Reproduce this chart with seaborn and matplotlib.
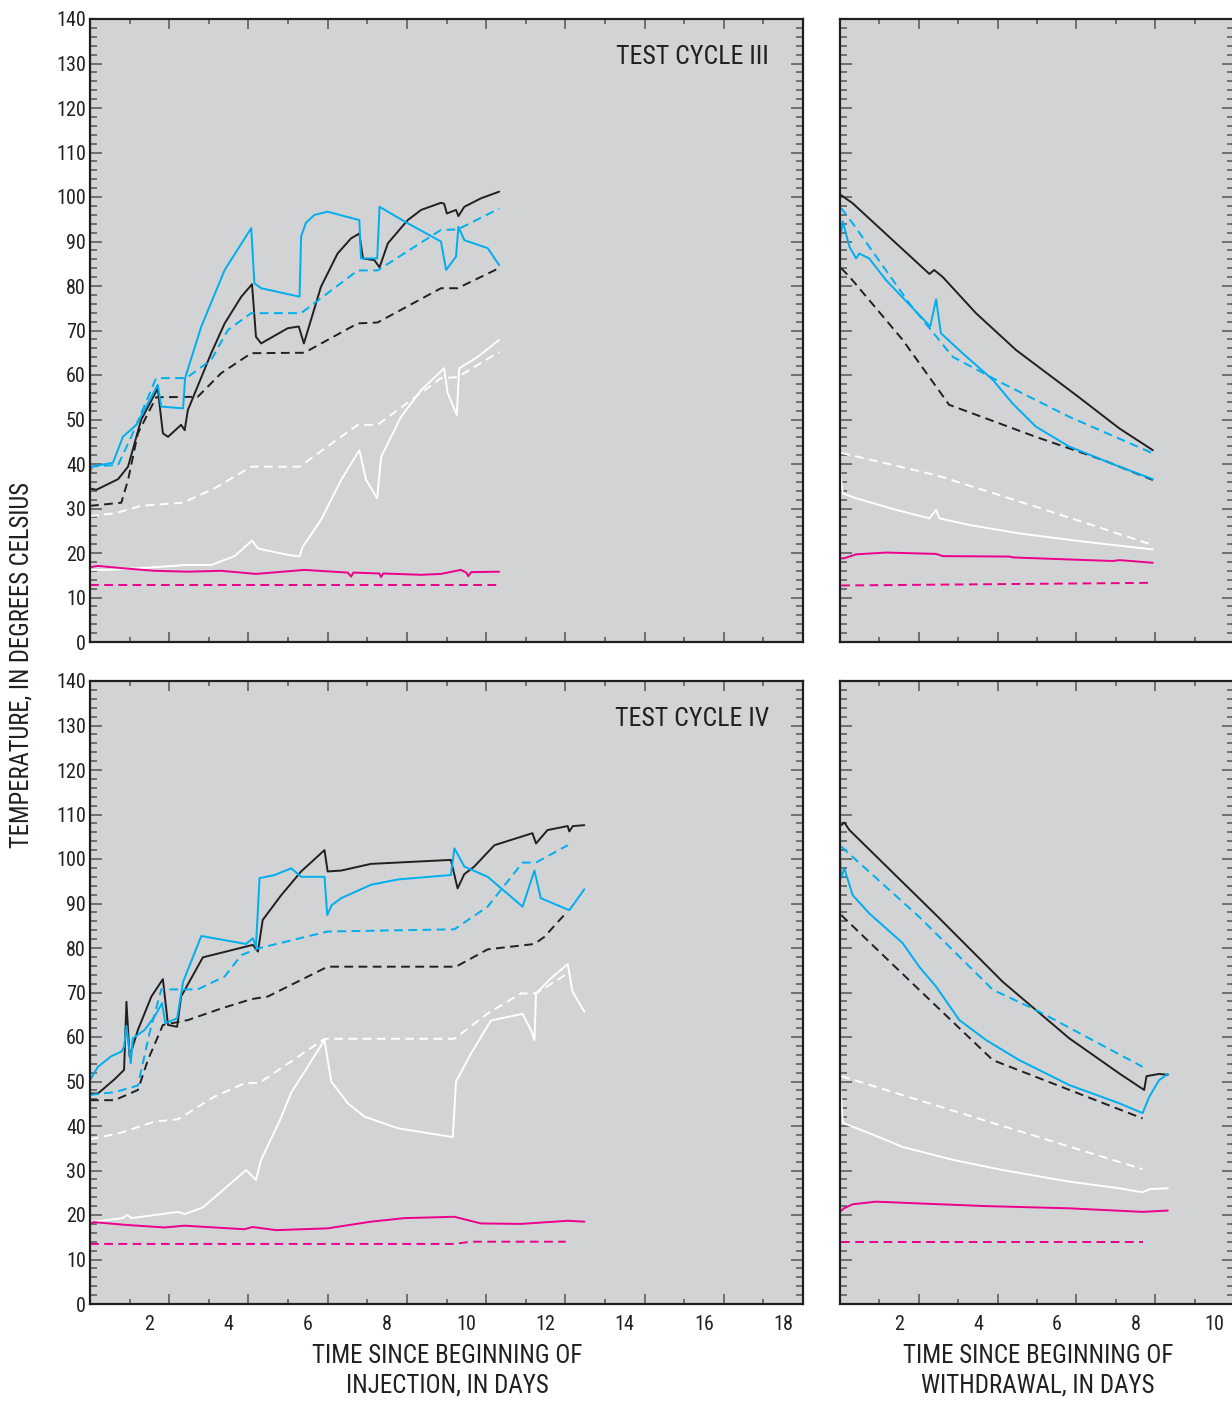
import numpy as np
import pandas as pd
import matplotlib
matplotlib.use('Agg')
import matplotlib.pyplot as plt
from matplotlib.ticker import MultipleLocator
import seaborn as sns

# Cores e estilo
FUNDO = '#d1d3d4'
AZUL = '#00aeef'
MAGENTA = '#ec008c'
PRETO = '#231f20'
BRANCO = '#ffffff'

# ---- TEST CYCLE III, injeção (dia, temperatura) ----
c3_inj_preto = [(0.5, 34.5), (0.66, 34.2), (1.21, 36.6), (1.46, 39.4), (1.79, 49.9), (2.21, 57.0),
                (2.34, 46.9), (2.47, 46.1), (2.80, 48.8), (2.89, 47.6), (2.97, 52.1), (3.56, 64.9),
                (3.90, 71.6), (4.32, 77.6), (4.59, 80.4), (4.69, 68.6), (4.82, 67.1), (5.49, 70.5),
                (5.77, 70.9), (5.90, 67.1), (6.33, 79.8), (6.75, 87.3), (7.09, 90.7), (7.30, 91.8),
                (7.39, 86.2), (7.68, 85.8), (7.81, 84.2), (8.02, 89.6), (8.52, 94.8), (8.86, 97.1),
                (9.36, 98.7), (9.44, 98.5), (9.51, 96.3), (9.74, 97.1), (9.80, 95.7), (9.95, 97.8),
                (10.37, 99.7), (10.83, 101.2)]
c3_inj_preto_sim = [(0.5, 30.6), (1.29, 31.3), (1.46, 36.4), (1.71, 46.9), (2.17, 55.0), (3.22, 55.1),
                    (3.81, 60.4), (4.57, 64.9), (5.91, 65.0), (7.26, 71.6), (7.76, 71.8), (9.36, 79.5),
                    (9.78, 79.5), (10.87, 84.2)]
c3_inj_azul = [(0.5, 37.9), (0.55, 39.4), (1.08, 40.3), (1.33, 46.1), (1.67, 48.8), (2.21, 57.8),
               (2.30, 52.9), (2.85, 52.5), (2.90, 59.3), (3.31, 70.9), (3.90, 83.6), (4.57, 93.0),
               (4.65, 80.6), (4.82, 79.5), (5.79, 77.6), (5.83, 91.1), (5.95, 94.2), (6.17, 96.0),
               (6.50, 96.7), (7.30, 94.8), (7.34, 86.2), (7.75, 86.2), (7.81, 97.8), (8.44, 94.5),
               (9.36, 90.0), (9.49, 83.6), (9.74, 86.6), (9.80, 93.3), (9.95, 90.3), (10.54, 88.5),
               (10.83, 84.7)]
c3_inj_azul_sim = [(0.5, 39.4), (1.21, 39.8), (1.54, 46.1), (2.17, 59.3), (2.93, 59.3), (3.56, 63.4),
                   (3.98, 70.1), (4.57, 73.9), (5.83, 73.9), (7.26, 83.5), (7.76, 83.5), (9.36, 92.6),
                   (9.78, 92.7), (10.83, 97.4)]
c3_inj_branco = [(0.5, 16.2), (0.95, 16.2), (2.13, 16.8), (2.89, 17.3), (3.56, 17.3), (4.15, 19.3),
                 (4.59, 22.8), (4.74, 21.0), (5.49, 19.6), (5.79, 19.2), (5.87, 21.4), (6.33, 27.4),
                 (6.84, 36.4), (7.30, 43.1), (7.47, 36.4), (7.75, 32.3), (7.85, 41.6), (8.35, 50.6),
                 (8.86, 56.6), (9.44, 61.5), (9.53, 55.9), (9.76, 51.0), (9.82, 61.5), (10.29, 64.1),
                 (10.83, 67.9)]
c3_inj_branco_sim = [(0.5, 28.3), (1.12, 28.9), (1.79, 30.6), (2.85, 31.3), (3.64, 34.5), (4.57, 39.4),
                     (5.79, 39.4), (7.26, 48.8), (7.76, 48.8), (9.36, 59.3), (9.78, 59.5), (10.83, 65.2)]
c3_inj_magenta = [(0.5, 16.8), (0.70, 17.1), (1.29, 16.6), (2.13, 16.0), (2.97, 15.8), (3.81, 16.0),
                  (4.69, 15.3), (5.91, 16.2), (7.01, 15.6), (7.09, 14.7), (7.15, 15.6), (7.80, 15.4),
                  (7.85, 14.6), (7.90, 15.4), (8.86, 15.1), (9.36, 15.3), (9.86, 16.2), (10.0, 15.6),
                  (10.05, 14.8), (10.12, 15.7), (10.83, 15.8)]
c3_inj_magenta_sim = [(0.5, 12.7), (10.83, 12.7)]

# ---- TEST CYCLE III, retirada ----
c3_ret_preto = [(0.53, 100.4), (0.82, 98.6), (2.77, 82.7), (2.89, 83.6), (3.11, 82.0), (3.95, 73.9),
                (4.97, 65.6), (6.49, 55.5), (7.59, 48.0), (8.44, 43.1)]
c3_ret_preto_sim = [(0.53, 84.0), (0.74, 82.1), (2.09, 67.9), (3.27, 53.3), (5.47, 46.1), (7.17, 40.9),
                    (8.44, 36.4)]
c3_ret_azul = [(0.5, 90.3), (0.57, 94.5), (0.74, 88.8), (0.91, 86.2), (0.99, 87.3), (1.24, 86.2),
               (1.67, 81.3), (2.35, 75.0), (2.79, 70.9), (2.94, 77.0), (3.06, 69.4), (3.61, 64.9),
               (4.38, 58.9), (4.88, 53.6), (5.47, 48.4), (6.32, 43.9), (7.59, 39.4), (8.44, 36.6)]
c3_ret_azul_sim = [(0.53, 97.5), (0.82, 94.1), (2.26, 76.1), (3.36, 64.1), (4.63, 58.1), (6.32, 50.6),
                   (8.44, 42.4)]
c3_ret_branco = [(0.5, 38.7), (0.57, 33.4), (0.91, 32.3), (1.92, 29.7), (2.77, 27.8), (2.94, 29.7),
                 (3.02, 27.8), (3.78, 26.3), (5.05, 24.4), (6.74, 22.5), (8.44, 20.8)]
c3_ret_branco_sim = [(0.53, 42.5), (2.94, 37.5), (5.47, 30.4), (8.44, 21.8)]
c3_ret_magenta = [(0.5, 18.8), (0.6, 18.8), (0.91, 19.7), (1.67, 20.1), (2.94, 19.8), (3.11, 19.3),
                  (4.80, 19.2), (4.90, 19.0), (7.42, 18.2), (7.60, 18.4), (8.44, 17.8)]
c3_ret_magenta_sim = [(0.53, 12.7), (8.44, 13.3)]

# ---- TEST CYCLE IV, injeção ----
c4_inj_preto = [(0.5, 47.3), (0.70, 47.3), (1.12, 50.5), (1.36, 52.6), (1.42, 67.9), (1.50, 55.6),
                (1.71, 61.6), (2.05, 69.1), (2.34, 73.0), (2.47, 62.7), (2.70, 62.3), (2.80, 69.1),
                (3.35, 77.9), (4.61, 80.7), (4.74, 79.2), (4.86, 86.3), (5.33, 91.9), (5.83, 97.2),
                (6.42, 102.0), (6.50, 97.2), (6.84, 97.4), (7.59, 98.9), (9.61, 99.8), (9.78, 93.4),
                (9.95, 96.6), (10.20, 98.3), (10.71, 103.1), (11.67, 105.8), (11.76, 103.5),
                (12.05, 106.5), (12.56, 107.4), (12.60, 106.2), (12.69, 107.4), (12.98, 107.6)]
c4_inj_preto_sim = [(0.5, 45.8), (1.12, 45.8), (1.71, 48.1), (1.96, 54.8), (2.34, 62.7), (2.97, 63.8),
                    (3.81, 66.4), (4.57, 68.5), (4.99, 69.1), (6.50, 75.8), (9.74, 75.8), (10.54, 79.7),
                    (11.72, 80.9), (11.97, 82.5), (12.47, 87.4)]
c4_inj_azul = [(0.5, 50.3), (0.70, 53.3), (1.04, 55.7), (1.29, 56.7), (1.36, 57.8), (1.42, 62.5),
               (1.53, 54.1), (1.58, 59.7), (1.88, 61.6), (2.13, 64.6), (2.32, 67.6), (2.40, 63.1),
               (2.70, 64.2), (2.85, 72.4), (3.31, 82.7), (4.44, 80.9), (4.61, 82.2), (4.69, 80.3),
               (4.78, 95.7), (5.16, 96.4), (5.58, 97.9), (5.83, 96.0), (6.42, 96.0), (6.49, 87.4),
               (6.60, 89.6), (6.84, 91.2), (7.59, 94.2), (8.27, 95.4), (9.61, 96.4), (9.70, 102.4),
               (9.95, 98.3), (10.54, 96.0), (11.42, 89.3), (11.72, 97.4), (11.88, 91.2), (12.60, 88.5),
               (12.98, 93.2)]
c4_inj_azul_sim = [(0.5, 47.0), (1.12, 47.6), (1.71, 49.1), (2.00, 60.8), (2.30, 70.7), (3.22, 70.7),
                   (3.90, 73.6), (4.32, 78.4), (4.74, 79.9), (6.50, 83.7), (9.70, 84.2), (10.54, 89.3),
                   (11.42, 99.2), (11.76, 99.2), (12.56, 103.1)]
c4_inj_branco = [(0.5, 18.4), (1.33, 19.3), (1.44, 20.0), (1.55, 19.3), (2.72, 20.7), (2.89, 20.2),
                 (3.35, 21.7), (4.44, 30.1), (4.69, 27.9), (4.82, 32.4), (5.28, 41.0), (5.58, 47.5),
                 (6.42, 59.3), (6.59, 50.0), (7.01, 45.1), (7.43, 42.1), (8.27, 39.5), (9.66, 37.5),
                 (9.74, 50.0), (10.12, 56.3), (10.62, 63.7), (11.42, 65.2), (11.63, 61.6), (11.72, 59.3),
                 (11.76, 69.8), (12.14, 73.2), (12.56, 76.4), (12.68, 70.2), (12.98, 65.7)]
c4_inj_branco_sim = [(0.5, 37.0), (1.29, 38.5), (2.13, 41.0), (2.72, 41.5), (3.64, 46.6), (4.40, 49.6),
                     (4.78, 49.7), (6.42, 59.6), (9.70, 59.6), (10.54, 65.3), (11.38, 69.8),
                     (11.76, 69.8), (12.56, 74.3)]
c4_inj_magenta = [(0.5, 18.1), (0.6, 18.4), (1.37, 17.8), (2.38, 17.2), (2.89, 17.6), (4.40, 16.8),
                  (4.60, 17.3), (5.20, 16.6), (6.50, 17.0), (7.59, 18.5), (8.44, 19.3), (9.70, 19.6),
                  (10.37, 18.1), (11.38, 18.0), (12.56, 18.7), (12.98, 18.5)]
c4_inj_magenta_sim = [(0.5, 13.5), (9.70, 13.5), (10.12, 14.0), (12.51, 14.0)]

# ---- TEST CYCLE IV, retirada ----
c4_ret_preto = [(0.53, 107.6), (0.61, 108.2), (0.74, 106.5), (2.94, 87.4), (4.63, 72.4), (6.32, 59.7),
                (7.59, 51.8), (8.22, 48.1), (8.28, 51.2), (8.60, 51.7), (8.82, 51.5)]
c4_ret_preto_sim = [(0.53, 87.4), (2.51, 70.6), (4.38, 54.8), (8.18, 41.7)]
c4_ret_azul = [(0.5, 100.5), (0.53, 95.7), (0.61, 97.9), (0.82, 91.9), (1.24, 87.8), (2.09, 81.1),
               (2.51, 75.8), (2.94, 71.3), (3.53, 63.8), (4.21, 59.3), (5.05, 54.8), (6.32, 49.2),
               (7.59, 45.1), (8.18, 42.9), (8.35, 46.6), (8.60, 50.3), (8.82, 51.7)]
c4_ret_azul_sim = [(0.53, 102.8), (2.51, 87.0), (4.38, 70.6), (5.47, 66.1), (8.18, 53.3)]
c4_ret_branco = [(0.5, 50.3), (0.57, 40.7), (1.24, 38.4), (2.09, 35.3), (3.36, 32.4), (4.63, 30.1),
                 (6.32, 27.5), (7.59, 26.0), (8.18, 25.1), (8.35, 25.8), (8.82, 26.0)]
c4_ret_branco_sim = [(0.53, 51.2), (8.18, 30.3)]
c4_ret_magenta = [(0.5, 20.7), (0.6, 21.5), (0.82, 22.4), (1.41, 23.0), (2.51, 22.6), (4.21, 22.0),
                  (6.32, 21.5), (8.18, 20.7), (8.82, 21.0)]
c4_ret_magenta_sim = [(0.53, 14.0), (8.18, 14.0)]

ROTULOS_Y = np.arange(0, 141, 10)
TITULOS = ['TEST CYCLE III', 'TEST CYCLE IV']
ROTULO_X_INJ = 'TIME SINCE BEGINNING OF\nINJECTION, IN DAYS'
ROTULO_X_RET = 'TIME SINCE BEGINNING OF\nWITHDRAWAL, IN DAYS'
ROTULO_Y = 'TEMPERATURE, IN DEGREES CELSIUS'

sns.set_theme(style='ticks')
plt.rcParams['font.family'] = ['Roboto Condensed', 'DejaVu Sans']

TRACO = (0, (4.5, 2.8))


def desenhar(ax, pts, cor, tracejado=False):
    df = pd.DataFrame(pts, columns=['dia', 'temp'])
    sns.lineplot(data=df, x='dia', y='temp', ax=ax, color=cor, lw=1.4, estimator=None,
                 sort=False, legend=False, ls=TRACO if tracejado else '-')


def formatar(ax, xmax, rotulos_y, rotulos_x):
    ax.set_facecolor(FUNDO)
    ax.set_xlim(0.5, xmax)
    ax.set_ylim(0, 140)
    ax.set(xlabel='', ylabel='')
    for lado in ax.spines.values():
        lado.set_color(PRETO)
        lado.set_linewidth(1.6)
    # eixo Y: maiores a cada 10, menores a cada 2
    ax.set_yticks(ROTULOS_Y)
    ax.yaxis.set_minor_locator(MultipleLocator(2))
    ax.tick_params(axis='y', which='major', direction='in', length=8.5, width=1.1,
                   color='#555555', left=True, right=True, labelleft=rotulos_y,
                   labelsize=14.5, pad=3, labelcolor=PRETO)
    ax.tick_params(axis='y', which='minor', direction='in', length=5, width=1.1,
                   color='#555555', left=True, right=True)
    # eixo X: rótulos nos pares, marcas nas meias-unidades
    pares = np.arange(2, xmax, 2)
    ax.set_xticks(pares)
    ax.set_xticklabels([str(int(v)) for v in pares])
    ax.set_xticks(np.arange(1.5, xmax, 2), minor=True)
    ax.tick_params(axis='x', which='major', length=0, labelsize=14.5, pad=8,
                   labelcolor=PRETO, labelbottom=rotulos_x)
    ax.tick_params(axis='x', which='minor', direction='in', length=3.5, width=1.1,
                   color='#555555', top=True, bottom=True)
    longas = np.arange(2.5, xmax + 0.01, 2)
    for pos in ['bottom', 'top']:
        sec = ax.secondary_xaxis(pos)
        sec.set_xticks(longas)
        sec.tick_params(direction='in', length=7, width=1.1, color='#555555',
                        labelbottom=False, labeltop=False)
        for lado in sec.spines.values():
            lado.set_visible(False)


fig = plt.figure(figsize=(12.32, 14.03), dpi=100)
W, H = 1232, 1403
posicoes = {
    'ti': [90 / W, 1 - 642 / H, 713 / W, 623 / H],
    'tr': [840 / W, 1 - 642 / H, 394 / W, 623 / H],
    'bi': [90 / W, 1 - 1304 / H, 713 / W, 623 / H],
    'br': [840 / W, 1 - 1304 / H, 394 / W, 623 / H],
}

paineis = [
    ('ti', [c3_inj_branco_sim, c3_inj_branco, c3_inj_preto_sim, c3_inj_preto,
            c3_inj_azul_sim, c3_inj_azul, c3_inj_magenta_sim, c3_inj_magenta], 18.5, True, False, TITULOS[0]),
    ('tr', [c3_ret_branco_sim, c3_ret_branco, c3_ret_preto_sim, c3_ret_preto,
            c3_ret_azul_sim, c3_ret_azul, c3_ret_magenta_sim, c3_ret_magenta], 10.5, False, False, None),
    ('bi', [c4_inj_branco_sim, c4_inj_branco, c4_inj_preto_sim, c4_inj_preto,
            c4_inj_azul_sim, c4_inj_azul, c4_inj_magenta_sim, c4_inj_magenta], 18.5, True, True, TITULOS[1]),
    ('br', [c4_ret_branco_sim, c4_ret_branco, c4_ret_preto_sim, c4_ret_preto,
            c4_ret_azul_sim, c4_ret_azul, c4_ret_magenta_sim, c4_ret_magenta], 10.5, False, True, None),
]
cores = [BRANCO, BRANCO, PRETO, PRETO, AZUL, AZUL, MAGENTA, MAGENTA]

for chave, series, xmax, rot_y, rot_x, titulo in paineis:
    ax = fig.add_axes(posicoes[chave])
    for i, (pts, cor) in enumerate(zip(series, cores)):
        desenhar(ax, pts, cor, tracejado=(i % 2 == 0))
    formatar(ax, xmax, rot_y, rot_x)
    if titulo:
        ax.text(0.952, 0.939, titulo, transform=ax.transAxes, ha='right', va='center',
                fontsize=18.5, color=PRETO)

fig.text(447 / W, 1 - 1371 / H, ROTULO_X_INJ, ha='center', va='center', fontsize=18,
         linespacing=1.3, color=PRETO)
fig.text(1038 / W, 1 - 1371 / H, ROTULO_X_RET, ha='center', va='center', fontsize=18,
         linespacing=1.3, color=PRETO)
fig.text(22 / W, 1 - 665 / H, ROTULO_Y, ha='center', va='center', rotation=90, fontsize=17.7,
         color=PRETO)

fig.savefig('out.png', dpi=100, facecolor='white')
